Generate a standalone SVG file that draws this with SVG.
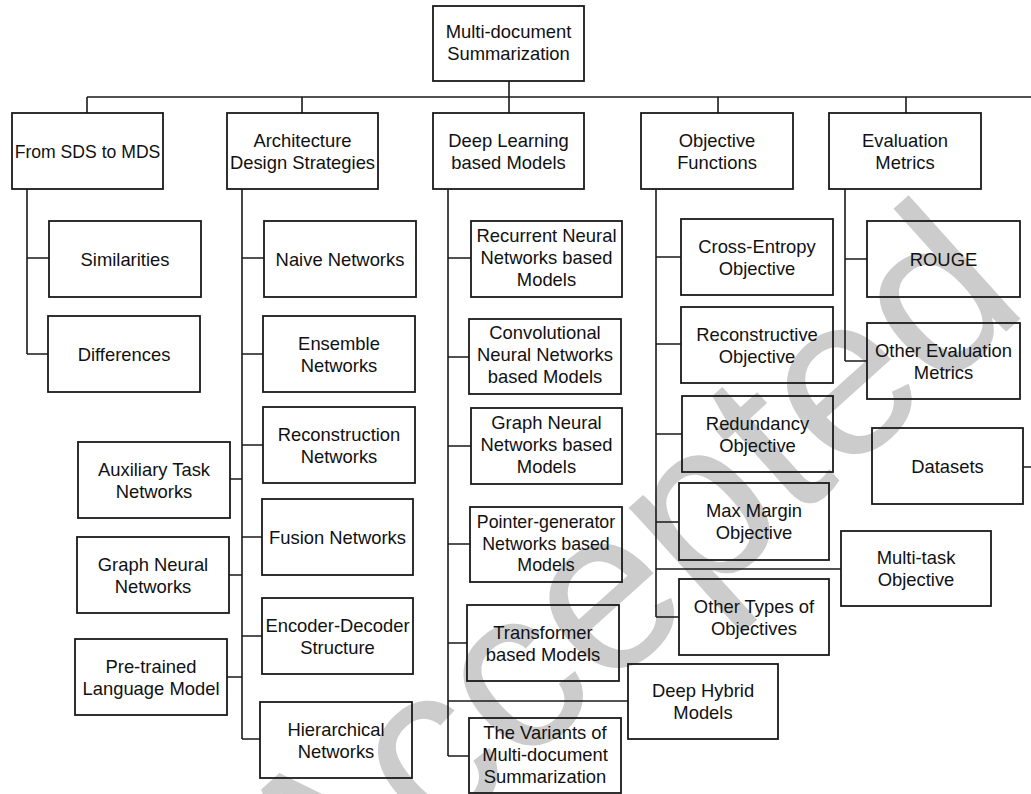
<svg xmlns="http://www.w3.org/2000/svg" width="1031" height="794" viewBox="0 0 1031 794">
<style>
.bg{fill:#ffffff}
.wm{font-family:"Liberation Sans",Arial,sans-serif;font-size:230px;fill:#cccccc}
.box{fill:none;stroke:#1a1a1a;stroke-width:1.8}
.ln{fill:none;stroke:#1a1a1a;stroke-width:1.6}
.t{font-family:"Liberation Sans",Arial,sans-serif;font-size:18.4px;fill:#111111;text-anchor:middle}
.s{font-size:17.8px}
</style>
<rect class="bg" x="0" y="0" width="1031" height="794"/>
<g id="watermark" transform="translate(635,585) rotate(-42)">
<text class="wm" x="0" y="60" text-anchor="middle">Accepted</text>
</g>
<g id="connectors">
<path class="ln" d="M509 81V113M87 97H1031M87 97V113M302 97V113M718 97V113M906 97V113"/>
<path class="ln" d="M27 189V354M27 258H49M27 354H48"/>
<path class="ln" d="M242 189V739M242 258H264M242 354H263M242 445H263M242 537H262M242 636H262M242 739H260M230 479H242M229 575H242M227 677H242"/>
<path class="ln" d="M448 189V756M448 258H471M448 357H469M448 446H471M448 544H470M448 643H467M448 701H628M448 756H469"/>
<path class="ln" d="M656 189V617M656 257H681M656 344H681M656 434H682M656 522H679M656 569H841M656 617H679"/>
<path class="ln" d="M845 189V361M845 259H867M845 361H867M1023 467H1031"/>
</g>
<g id="root"><rect class="box" x="433" y="6" width="151" height="75"/><text class="t" x="508.5" y="38">Multi-document</text><text class="t" x="508.5" y="60">Summarization</text></g>
<g id="sds"><rect class="box" x="12" y="113" width="151" height="76"/><text class="t" x="87.5" y="157.5" style="font-size:17.6px">From SDS to MDS</text></g>
<g id="arch"><rect class="box" x="227" y="113" width="151" height="76"/><text class="t" x="302.5" y="146.5">Architecture</text><text class="t" x="302.5" y="168.5">Design Strategies</text></g>
<g id="dl"><rect class="box" x="433" y="113" width="151" height="76"/><text class="t" x="508.5" y="146.5">Deep Learning</text><text class="t" x="508.5" y="168.5">based Models</text></g>
<g id="obj"><rect class="box" x="641" y="113" width="152" height="76"/><text class="t" x="717" y="146.5">Objective</text><text class="t" x="717" y="168.5">Functions</text></g>
<g id="eval"><rect class="box" x="829" y="113" width="152" height="76"/><text class="t" x="905" y="146.5">Evaluation</text><text class="t" x="905" y="168.5">Metrics</text></g>
<g id="sim"><rect class="box" x="49" y="221" width="152" height="76"/><text class="t" x="125" y="265.5">Similarities</text></g>
<g id="diff"><rect class="box" x="48" y="316" width="152" height="76"/><text class="t" x="124" y="360.5">Differences</text></g>
<g id="naive"><rect class="box" x="264" y="221" width="152" height="76"/><text class="t" x="340" y="265.5">Naive Networks</text></g>
<g id="ensemble"><rect class="box" x="263" y="316" width="152" height="76"/><text class="t" x="339" y="349.5">Ensemble</text><text class="t" x="339" y="371.5">Networks</text></g>
<g id="recon"><rect class="box" x="263" y="407" width="152" height="76"/><text class="t" x="339" y="440.5">Reconstruction</text><text class="t" x="339" y="462.5">Networks</text></g>
<g id="fusion"><rect class="box" x="262" y="499" width="151" height="76"/><text class="t" x="337.5" y="543.5">Fusion Networks</text></g>
<g id="encdec"><rect class="box" x="262" y="598" width="151" height="76"/><text class="t" x="337.5" y="631.5">Encoder-Decoder</text><text class="t" x="337.5" y="653.5">Structure</text></g>
<g id="hier"><rect class="box" x="260" y="702" width="152" height="76"/><text class="t" x="336" y="735.5">Hierarchical</text><text class="t" x="336" y="757.5">Networks</text></g>
<g id="aux"><rect class="box" x="78" y="442" width="152" height="76"/><text class="t" x="154" y="475.5">Auxiliary Task</text><text class="t" x="154" y="497.5">Networks</text></g>
<g id="gnn"><rect class="box" x="77" y="537" width="152" height="76"/><text class="t" x="153" y="570.5">Graph Neural</text><text class="t" x="153" y="592.5">Networks</text></g>
<g id="plm"><rect class="box" x="75" y="639" width="152" height="76"/><text class="t" x="151" y="672.5">Pre-trained</text><text class="t" x="151" y="694.5">Language Model</text></g>
<g id="rnn"><rect class="box" x="471" y="221" width="151" height="76"/><text class="t" x="546.5" y="242">Recurrent Neural</text><text class="t" x="546.5" y="264">Networks based</text><text class="t" x="546.5" y="286">Models</text></g>
<g id="cnn"><rect class="box" x="469" y="319" width="152" height="75"/><text class="t" x="545" y="339">Convolutional</text><text class="t" x="545" y="361">Neural Networks</text><text class="t" x="545" y="383">based Models</text></g>
<g id="gnnb"><rect class="box" x="471" y="408" width="151" height="76"/><text class="t" x="546.5" y="429">Graph Neural</text><text class="t" x="546.5" y="451">Networks based</text><text class="t" x="546.5" y="473">Models</text></g>
<g id="ptr"><rect class="box" x="470" y="507" width="152" height="75"/><text class="t s" x="546" y="527.5">Pointer-generator</text><text class="t s" x="546" y="549.5">Networks based</text><text class="t s" x="546" y="571">Models</text></g>
<g id="trans"><rect class="box" x="467" y="605" width="152" height="76"/><text class="t" x="543" y="638.5">Transformer</text><text class="t" x="543" y="660.5">based Models</text></g>
<g id="hybrid"><rect class="box" x="628" y="664" width="150" height="75"/><text class="t" x="703" y="697">Deep Hybrid</text><text class="t" x="703" y="719">Models</text></g>
<g id="variants"><rect class="box" x="469" y="718" width="152" height="75"/><text class="t" x="545" y="739">The Variants of</text><text class="t" x="545" y="761">Multi-document</text><text class="t" x="545" y="783">Summarization</text></g>
<g id="ce"><rect class="box" x="681" y="219" width="152" height="76"/><text class="t" x="757" y="252.5">Cross-Entropy</text><text class="t" x="757" y="274.5">Objective</text></g>
<g id="rc"><rect class="box" x="681" y="307" width="152" height="76"/><text class="t" x="757" y="340.5">Reconstructive</text><text class="t" x="757" y="362.5">Objective</text></g>
<g id="rd"><rect class="box" x="682" y="396" width="151" height="76"/><text class="t" x="757.5" y="429.5">Redundancy</text><text class="t" x="757.5" y="451.5">Objective</text></g>
<g id="mm"><rect class="box" x="679" y="483" width="150" height="77"/><text class="t" x="754" y="517">Max Margin</text><text class="t" x="754" y="539">Objective</text></g>
<g id="mt"><rect class="box" x="841" y="531" width="150" height="75"/><text class="t" x="916" y="564">Multi-task</text><text class="t" x="916" y="586">Objective</text></g>
<g id="ot"><rect class="box" x="679" y="579" width="150" height="76"/><text class="t" x="754" y="612.5">Other Types of</text><text class="t" x="754" y="634.5">Objectives</text></g>
<g id="rouge"><rect class="box" x="867" y="221" width="153" height="76"/><text class="t" x="943.5" y="265.5">ROUGE</text></g>
<g id="oem"><rect class="box" x="867" y="323" width="153" height="76"/><text class="t" x="943.5" y="356.5">Other Evaluation</text><text class="t" x="943.5" y="378.5">Metrics</text></g>
<g id="datasets"><rect class="box" x="872" y="428" width="151" height="76"/><text class="t" x="947.5" y="472.5">Datasets</text></g>
</svg>
